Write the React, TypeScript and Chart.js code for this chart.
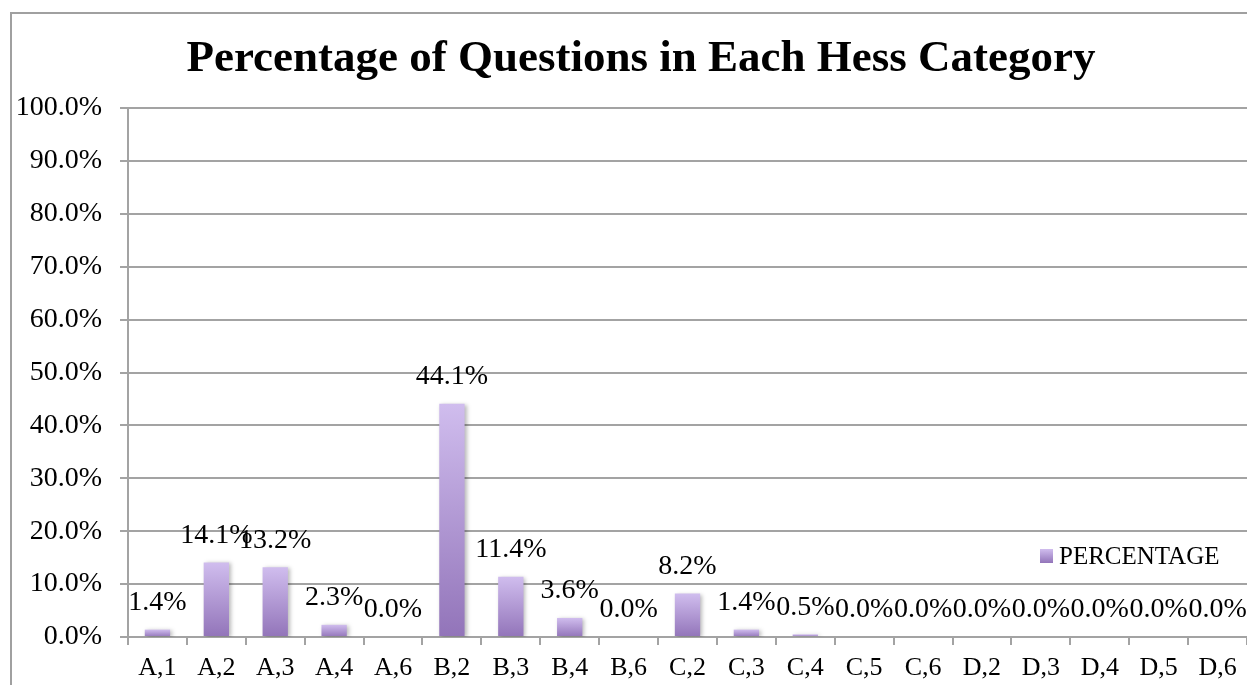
import React, { useEffect, useRef } from "react";
import { Chart, registerables } from "chart.js";

Chart.register(...registerables);

const categories = [
  "A,1", "A,2", "A,3", "A,4", "A,6", "B,2", "B,3", "B,4", "B,6", "C,2",
  "C,3", "C,4", "C,5", "C,6", "D,2", "D,3", "D,4", "D,5", "D,6",
];
const percentages = [
  1.4, 14.1, 13.2, 2.3, 0.0, 44.1, 11.4, 3.6, 0.0, 8.2,
  1.4, 0.5, 0.0, 0.0, 0.0, 0.0, 0.0, 0.0, 0.0,
];
const seriesName = "PERCENTAGE";
const chartTitle = "Percentage of Questions in Each Hess Category";

const SERIF = "'Liberation Serif', 'Times New Roman', serif";
const GRID = "#a3a3a3";
const BAR_TOP = "#d0bdee";
const BAR_BOTTOM = "#9274b9";

const fmt = (v: number) => v.toFixed(1) + "%";

// Outer frame, title, value labels and the in-plot legend
const decorations = {
  id: "decorations",
  beforeDraw(chart: any) {
    const { ctx } = chart;
    ctx.save();
    ctx.fillStyle = "#ffffff";
    ctx.fillRect(0, 0, chart.width, chart.height);
    ctx.strokeStyle = "#a0a0a0";
    ctx.lineWidth = 2;
    ctx.beginPath();
    ctx.moveTo(11, chart.height);
    ctx.lineTo(11, 13);
    ctx.lineTo(chart.width, 13);
    ctx.stroke();

    ctx.fillStyle = "#000";
    ctx.font = `bold 45px ${SERIF}`;
    ctx.textAlign = "center";
    ctx.textBaseline = "middle";
    ctx.fillText(chartTitle, 641, 59);
    ctx.restore();
  },
  beforeDatasetsDraw(chart: any) {
    const { ctx } = chart;
    ctx.save();
    ctx.shadowColor = "rgba(0,0,0,0.28)";
    ctx.shadowBlur = 4;
    ctx.shadowOffsetX = 2;
    ctx.shadowOffsetY = 1;
  },
  afterDatasetsDraw(chart: any) {
    const { ctx } = chart;
    ctx.restore();
    ctx.save();
    const meta = chart.getDatasetMeta(0);
    ctx.fillStyle = "#000";
    ctx.font = `28px ${SERIF}`;
    ctx.textAlign = "center";
    ctx.textBaseline = "middle";
    meta.data.forEach((bar: any, i: number) => {
      ctx.fillText(fmt(percentages[i]), bar.x, bar.y - 27);
    });

    // legend entry
    const area = chart.chartArea;
    const lx = area.right - 207;
    const ly = area.bottom - 81;
    const g = ctx.createLinearGradient(0, ly - 7, 0, ly + 7);
    g.addColorStop(0, BAR_TOP);
    g.addColorStop(1, BAR_BOTTOM);
    ctx.fillStyle = g;
    ctx.fillRect(lx, ly - 7, 13, 14);
    ctx.fillStyle = "#000";
    ctx.textAlign = "left";
    ctx.font = `25px ${SERIF}`;
    ctx.fillText(seriesName, lx + 19, ly + 1);
    ctx.restore();
  },
};

export default function App() {
  const canvasRef = useRef<HTMLCanvasElement | null>(null);

  useEffect(() => {
    if (!canvasRef.current) return;
    const chart = new Chart(canvasRef.current, {
      type: "bar",
      data: {
        labels: categories,
        datasets: [
          {
            label: seriesName,
            data: percentages,
            barPercentage: 0.43,
            categoryPercentage: 1,
            backgroundColor: (c: any) => {
              const ch = c.chart;
              const y = ch.scales?.y;
              if (!y || c.type !== "data") return BAR_BOTTOM;
              const top = y.getPixelForValue(c.raw);
              const base = y.getPixelForValue(0);
              if (!isFinite(top) || !isFinite(base) || base - top < 1) return BAR_TOP;
              const g = ch.ctx.createLinearGradient(0, top, 0, base);
              g.addColorStop(0, BAR_TOP);
              g.addColorStop(1, BAR_BOTTOM);
              return g;
            },
            borderWidth: 0,
          },
        ],
      },
      options: {
        responsive: false,
        animation: false,
        layout: { padding: { top: 108, left: 0, right: 0, bottom: 0 } },
        plugins: {
          legend: { display: false },
          title: { display: false },
          tooltip: { enabled: false },
        },
        scales: {
          x: {
            afterFit: (s: any) => {
              s.height = 48;
            },
            grid: {
              display: true,
              drawOnChartArea: false,
              drawTicks: true,
              tickLength: 8,
              color: GRID,
              lineWidth: 2,
            },
            border: { display: true, color: GRID, width: 2 },
            ticks: {
              color: "#000",
              font: { family: SERIF, size: 26 },
              padding: 8,
              maxRotation: 0,
              autoSkip: false,
            },
          },
          y: {
            min: 0,
            max: 100,
            afterFit: (s: any) => {
              s.width = 128;
            },
            grid: {
              color: GRID,
              lineWidth: 2,
              tickLength: 8,
            },
            border: { display: true, color: GRID, width: 2 },
            ticks: {
              stepSize: 10,
              color: "#000",
              font: { family: SERIF, size: 28 },
              padding: 18,
              callback: (v: any) => fmt(Number(v)),
            },
          },
        },
      },
      plugins: [decorations],
    });
    return () => chart.destroy();
  }, []);

  return (
    <div style={{ position: "fixed", left: 0, top: 0, width: 1247, height: 685, overflow: "hidden", background: "#fff" }}>
      <canvas ref={canvasRef} width={1247} height={685} style={{ display: "block" }} />
    </div>
  );
}
